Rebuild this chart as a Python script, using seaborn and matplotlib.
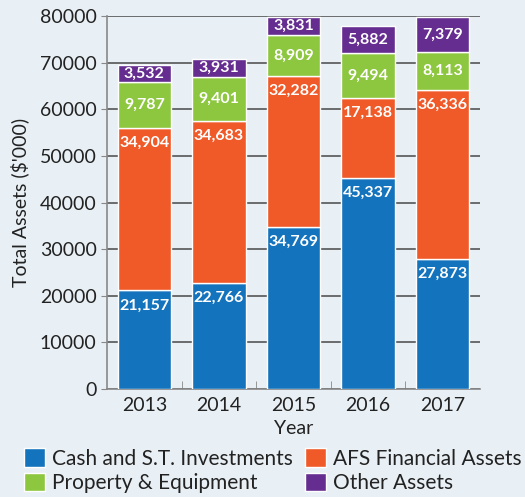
import numpy as np
import matplotlib
matplotlib.use("Agg")
import matplotlib.pyplot as plt
from matplotlib.patches import Patch
import seaborn as sns

# data ($'000)
years = ["2013", "2014", "2015", "2016", "2017"]
cash = [21157, 22766, 34769, 45337, 27873]
afs = [34904, 34683, 32282, 17138, 36336]
prop = [9787, 9401, 8909, 9494, 8113]
other = [3532, 3931, 3831, 5882, 7379]

series_names = ["Cash and S.T. Investments", "AFS Financial Assets",
                "Property & Equipment", "Other Assets"]
series_colors = ["#1473bd", "#f05a28", "#8dc63f", "#662d91"]

sns.set_style("white")
plt.rcParams["font.family"] = ["Lato", "DejaVu Sans"]

bg = "#e9f0f5"
fig = plt.figure(figsize=(5.25, 4.97), dpi=100, facecolor=bg)
ax = fig.add_axes([0.204, 0.217, 0.71, 0.751])
ax.set_facecolor("none")

# stacked bars
bottom = np.zeros(len(years))
for vals, name, col in zip([cash, afs, prop, other], series_names, series_colors):
    vals = np.array(vals)
    sns.barplot(x=years, y=vals, bottom=bottom, color=col, width=0.72,
                saturation=1, ax=ax, zorder=3)
    top = bottom + vals
    for i, v in enumerate(vals):
        if name in ("Cash and S.T. Investments", "AFS Financial Assets"):
            y = top[i] - 3200
        else:
            y = bottom[i] + v / 2
        ax.text(i, y, f"{v:,}", ha="center", va="center", color="white",
                fontsize=11.5, fontweight="bold", zorder=4)
    bottom = top

ax.set_ylim(0, 80000)
ax.set_xlim(-0.5, 4.5)
ax.set_yticks(np.arange(0, 80001, 10000))
ax.yaxis.grid(True, color="#555555", linewidth=1.2, zorder=0)
ax.set_axisbelow(True)

for s in ["top", "right"]:
    ax.spines[s].set_visible(False)
for s in ["left", "bottom"]:
    ax.spines[s].set_color("#888888")
    ax.spines[s].set_linewidth(1.2)

ax.tick_params(axis="y", labelsize=14, colors="#888888", labelcolor="#222222",
               length=4, left=True)
ax.tick_params(axis="x", labelsize=14, labelcolor="#222222", length=0, pad=6)
ax.set_xticks(np.arange(0.5, 4.5, 1), minor=True)
ax.tick_params(axis="x", which="minor", direction="in", length=6,
               colors="#888888", bottom=True)

ax.set_xlabel("Year", fontsize=14, color="#222222", labelpad=4)
ax.set_ylabel("Total Assets ($'000)", fontsize=14, color="#222222", labelpad=8)

# legend is filled column-wise, so order handles to read row by row
order = [0, 2, 1, 3]
handles = [Patch(facecolor=series_colors[k], label=series_names[k]) for k in order]
fig.legend(handles=handles, loc="lower center", bbox_to_anchor=(0.52, -0.03),
           ncol=2, frameon=False, fontsize=15, handlelength=1.0,
           handleheight=1.0, handletextpad=0.35, columnspacing=0.6,
           labelspacing=0.2, labelcolor="#222222")

fig.savefig("out.png", dpi=100, facecolor=bg)
